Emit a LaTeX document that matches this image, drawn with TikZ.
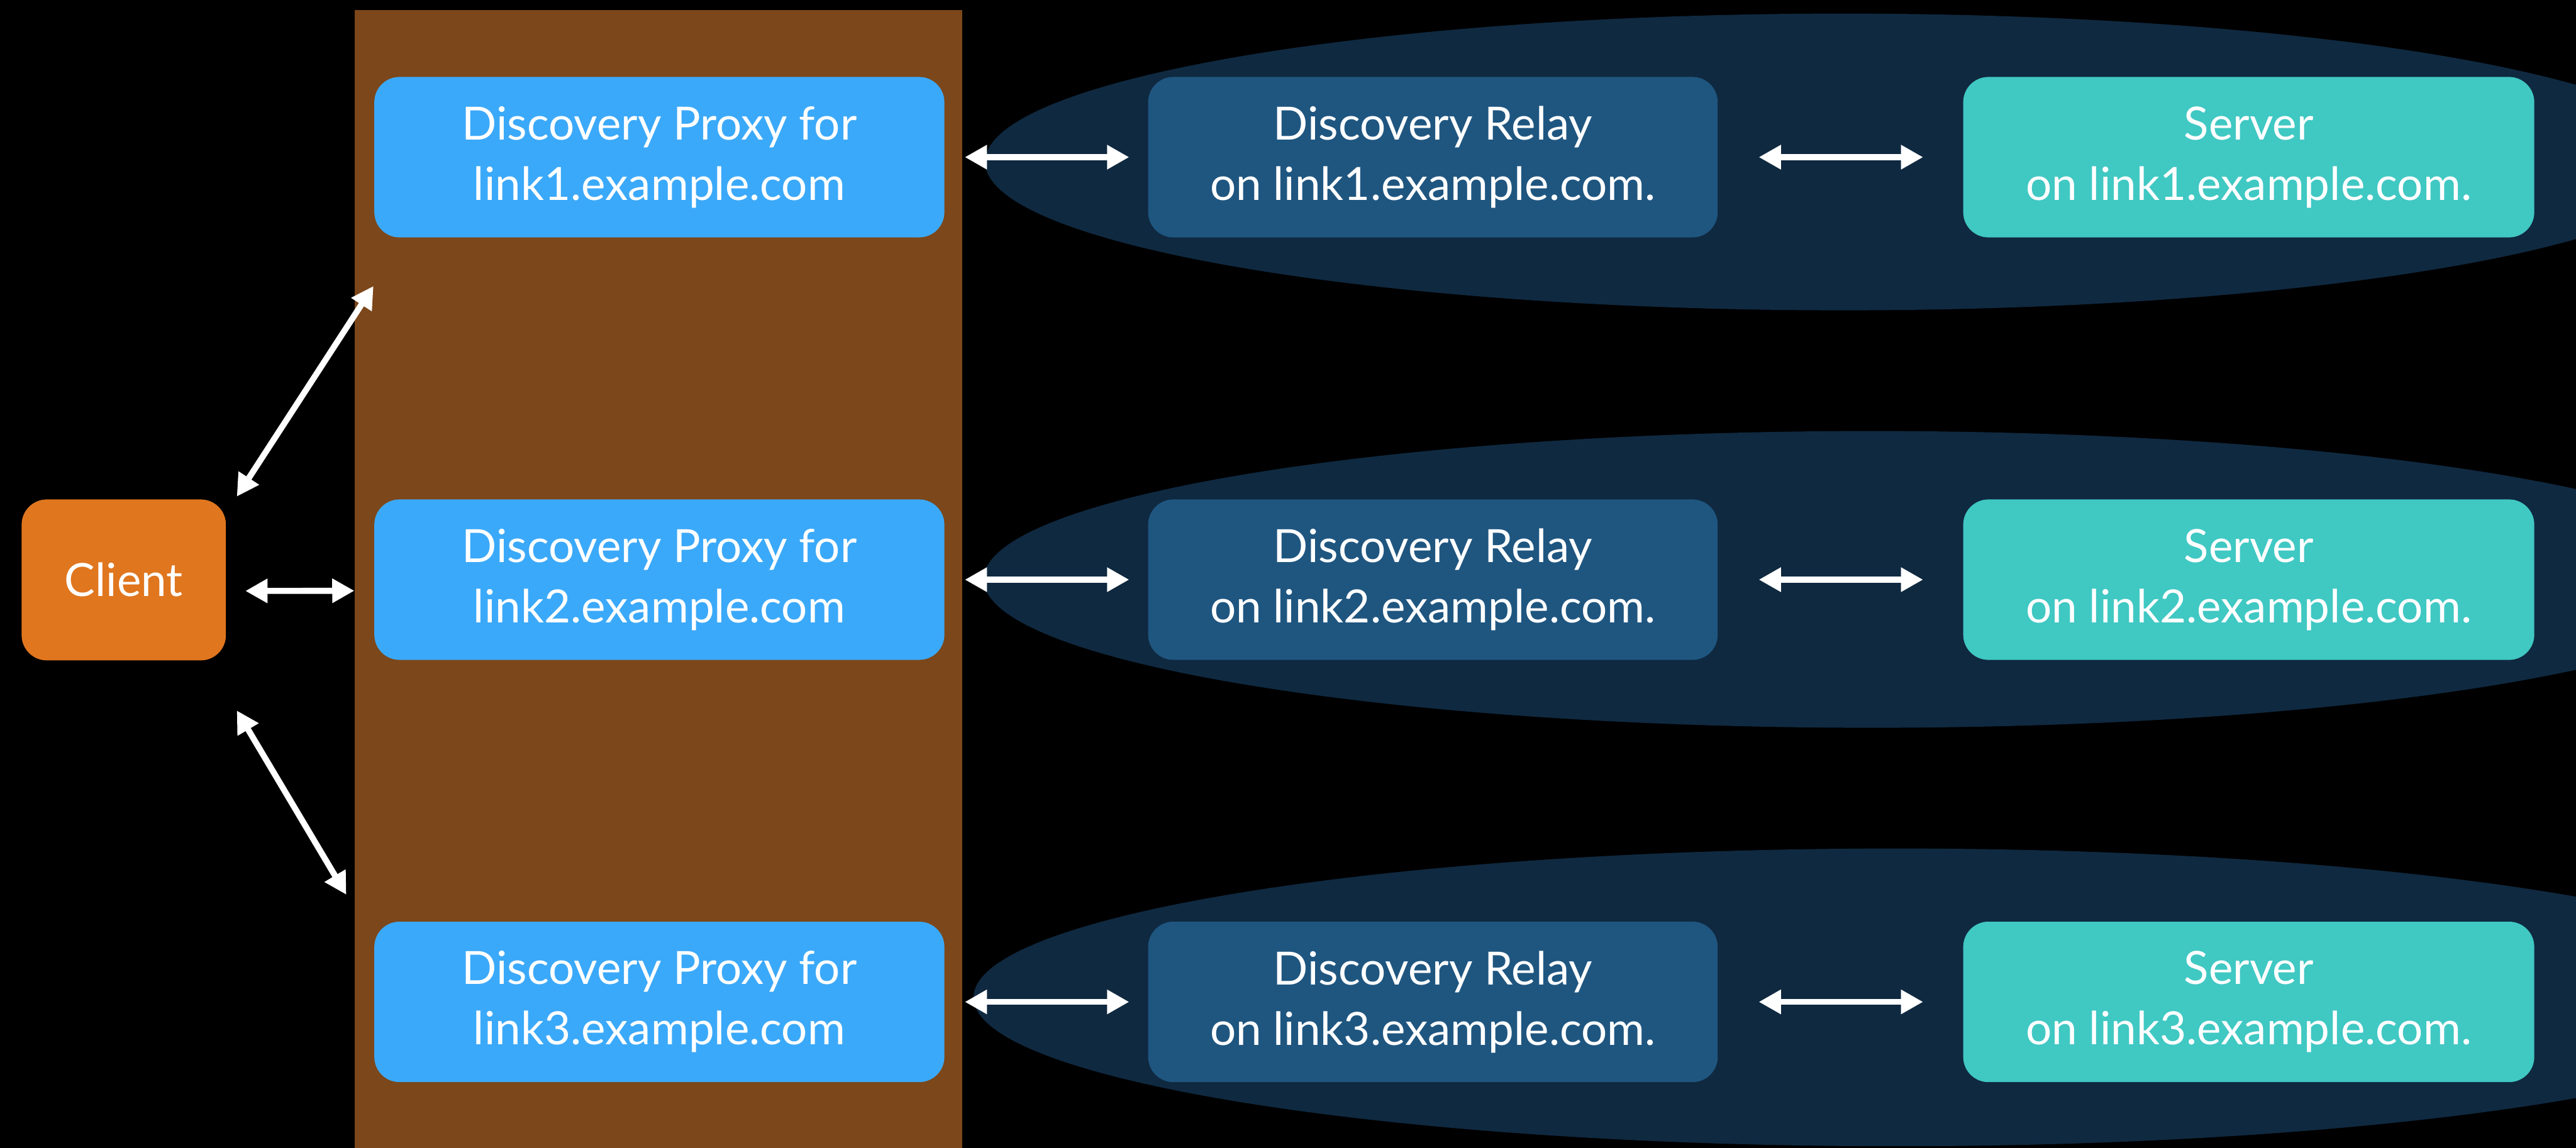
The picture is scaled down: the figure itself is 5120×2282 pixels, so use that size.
\documentclass[tikz,border=0pt]{standalone}
\usepackage{fontspec}
\setmainfont{Lato}
\usetikzlibrary{arrows.meta,calc}

\definecolor{brownbar}{RGB}{124,71,26}
\definecolor{halo}{RGB}{15,41,64}
\definecolor{proxyblue}{RGB}{59,169,249}
\definecolor{relayblue}{RGB}{31,86,128}
\definecolor{serverteal}{RGB}{64,200,195}
\definecolor{clientorange}{RGB}{224,118,30}

\begin{document}
\begin{tikzpicture}[x=0.1mm, y=-0.1mm,
  box/.style={rounded corners=5mm, minimum height=31.9mm, inner sep=0pt,
    align=center, text=white, font=\fontsize{25.9pt}{34.1pt}\selectfont},
  proxybox/.style={box, fill=proxyblue, minimum width=113.3mm},
  relaybox/.style={box, fill=relayblue, minimum width=113.2mm},
  serverbox/.style={box, fill=serverteal, minimum width=113.5mm},
  clientbox/.style={box, fill=clientorange, minimum width=40.6mm, minimum height=32mm},
  link/.style={draw=white, line width=1.2mm,
    {Triangle[length=4.4mm,width=4.6mm]}-{Triangle[length=4.4mm,width=4.6mm]}}
]
% canvas
\fill[black] (0,0) rectangle (5120,2282);
\useasboundingbox (0,0) rectangle (5120,2282);

% proxy column
\fill[brownbar] (705,20) rectangle (1913,2282);

% link halos
\begin{scope}
  \clip (0,0) rectangle (5120,2282);
  \fill[halo] (3663,322)  ellipse [x radius=170.5mm, y radius=29.5mm];
  \fill[halo] (3720,1152) ellipse [x radius=176.5mm, y radius=29.5mm];
  \fill[halo] (3769,1983) ellipse [x radius=183.4mm, y radius=29.6mm];
\end{scope}

% client
\node[clientbox] (c) at (246,1153) {Client};

% proxies
\node[proxybox] (p1) at (1310.5,312.5)  {Discovery Proxy for\\link1.example.com};
\node[proxybox] (p2) at (1310.5,1152.5) {Discovery Proxy for\\link2.example.com};
\node[proxybox] (p3) at (1310.5,1992)   {Discovery Proxy for\\link3.example.com};

% relays
\node[relaybox] (r1) at (2848,312.5)  {Discovery Relay\\on link1.example.com.};
\node[relaybox] (r2) at (2848,1152.5) {Discovery Relay\\on link2.example.com.};
\node[relaybox] (r3) at (2848,1992)   {Discovery Relay\\on link3.example.com.};

% servers
\node[serverbox] (s1) at (4469.5,312.5)  {Server\\on link1.example.com.};
\node[serverbox] (s2) at (4469.5,1152.5) {Server\\on link2.example.com.};
\node[serverbox] (s3) at (4469.5,1992)   {Server\\on link3.example.com.};

% client to proxies
\draw[link] ($(c.north east)+(21,-5)$) -- ($(p1.south west)+(-1,96)$);
\draw[link, shorten <=3.8mm, shorten >=3.9mm]
  ([yshift=-2.2mm]c.east) -- ([yshift=-2.2mm]p2.west);
\draw[link] ($(c.south east)+(21,99)$) -- ($(p3.north west)+(-55,-53)$);

% proxies to relays, relays to servers
\foreach \i in {1,2,3}{
  \draw[link, shorten <=4mm, shorten >=3.7mm] (p\i.east) -- (r\i.west);
  \draw[link, shorten <=8.1mm, shorten >=7.9mm] (r\i.east) -- (s\i.west);
}
\end{tikzpicture}
\end{document}
